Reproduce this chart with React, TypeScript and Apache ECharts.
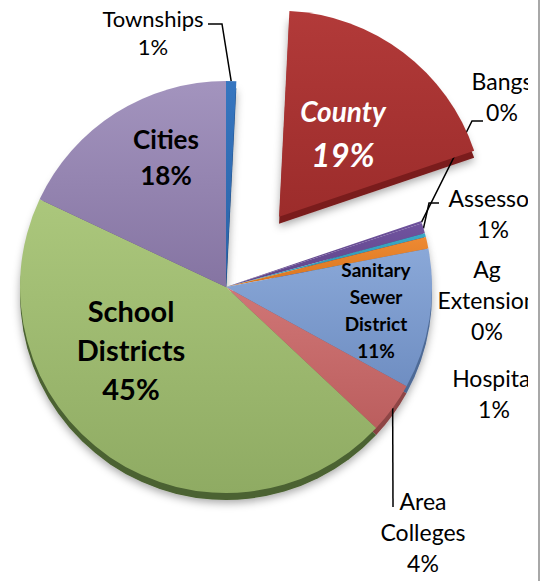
import React, { useEffect, useRef } from "react";
import * as echarts from "echarts";

// ---- data ----
const categories = [
  "Townships",
  "County",
  "Bangs",
  "Assessor",
  "Ag Extension",
  "Hospital",
  "Sanitary Sewer District",
  "Area Colleges",
  "School Districts",
  "Cities",
];
const values = [0.8, 19, 0.2, 0.8, 0.3, 0.9, 11, 4, 45, 18];
const labelNames = [
  "Townships",
  "County",
  "Bangs",
  "Assessor",
  "Ag\nExtension",
  "Hospital",
  "Sanitary\nSewer\nDistrict",
  "Area\nColleges",
  "School\nDistricts",
  "Cities",
];

// ---- styling ----
const topColors = ["#3676c0", "#b23a39", "#6e529c", "#70539f", "#3aa9c6", "#ee8a33", "#8aa8d8", "#d07676", "#abc77c", "#a394be"];
const bottomColors = ["#2a62a6", "#9c2c2b", "#5e4488", "#5e4488", "#2f93ad", "#d8751f", "#6f8ec2", "#bb5e5e", "#8fab63", "#8574a2"];
const sideColors = ["#1f4a7e", "#7a1f1f", "#47336a", "#47336a", "#236f83", "#a85818", "#4e6a96", "#8e4444", "#4b6230", "#5f5078"];

const lineIdx = [0, 2, 3, 7];

// label centres (layout only)
const labelPos: Record<number, [number, number]> = {
  0: [153, 32],
  1: [350, 98],
  2: [502, 96],
  3: [493, 213],
  4: [487, 300],
  5: [494, 393],
  6: [376, 310],
  7: [423, 532],
  8: [131, 349],
  9: [166, 157],
};
const lineBends: Record<number, [number, number][]> = {
  0: [[222, 24], [208, 24]],
  2: [[472, 121], [483, 121]],
  3: [[429, 203], [439, 203]],
  7: [[393, 507], [393, 507]],
};

const FONT = "Lato, 'Open Sans', sans-serif";
const CENTER_X = 226;
const CENTER_Y = 287;
const RADIUS = 206;
const EXPLODE = 88;

function labelFor(i: number) {
  if (i === 1) {
    return {
      show: true,
      position: "inside",
      formatter: "{a|County}\n{b|{d}%}",
      rich: {
        a: { fontFamily: FONT, fontSize: 28, fontWeight: "bold", fontStyle: "italic", color: "#fff", lineHeight: 43, align: "center" },
        b: { fontFamily: FONT, fontSize: 33, fontWeight: "bold", fontStyle: "italic", color: "#fff", lineHeight: 43, align: "center" },
      },
    };
  }
  if (i === 6) {
    return { show: true, position: "inside", formatter: labelNames[i] + "\n{d}%", fontFamily: FONT, fontSize: 19, fontWeight: "bold", color: "#000", lineHeight: 27, align: "center" };
  }
  if (i === 8) {
    return { show: true, position: "inside", formatter: labelNames[i] + "\n{d}%", fontFamily: FONT, fontSize: 29, fontWeight: "bold", color: "#000", lineHeight: 39, align: "center" };
  }
  if (i === 9) {
    return { show: true, position: "inside", formatter: labelNames[i] + "\n{d}%", fontFamily: FONT, fontSize: 26, fontWeight: "bold", color: "#000", lineHeight: 36, align: "center" };
  }
  return {
    show: true,
    position: "outside",
    formatter: labelNames[i] + "\n{d}%",
    fontFamily: FONT,
    fontSize: i === 0 ? 22 : 23,
    lineHeight: i === 0 ? 28 : 31,
    color: "#000",
    align: "center",
  };
}

export default function App() {
  const ref = useRef<HTMLDivElement>(null);
  useEffect(() => {
    if (!ref.current) return;
    const chart = echarts.init(ref.current, null, { renderer: "svg" });

    const mainData = categories.map((name, i) => ({
      name,
      value: values[i],
      selected: i === 1,
      itemStyle: {
        color: new echarts.graphic.LinearGradient(0, 0, 0, 1, [
          { offset: 0, color: topColors[i] },
          { offset: 1, color: bottomColors[i] },
        ]),
      },
      label: labelFor(i),
      labelLine: {
        show: lineIdx.includes(i),
        lineStyle: { color: "#000", width: 1.5 },
      },
    }));

    const sideData = categories.map((name, i) => ({
      name,
      value: values[i],
      selected: i === 1,
      itemStyle: { color: sideColors[i] },
    }));

    chart.setOption({
      animation: false,
      backgroundColor: "#fff",
      series: [
        {
          type: "pie",
          name: "depth",
          silent: true,
          z: 1,
          center: [CENTER_X, CENTER_Y + 7],
          radius: RADIUS,
          startAngle: 90,
          clockwise: true,
          selectedMode: "single",
          selectedOffset: EXPLODE,
          label: { show: false },
          labelLine: { show: false },
          itemStyle: { shadowBlur: 8, shadowColor: "rgba(0,0,0,0.35)", shadowOffsetY: 3 },
          data: sideData,
        },
        {
          type: "pie",
          name: "main",
          silent: true,
          z: 2,
          center: [CENTER_X, CENTER_Y],
          radius: RADIUS,
          startAngle: 90,
          clockwise: true,
          avoidLabelOverlap: false,
          selectedMode: "single",
          selectedOffset: EXPLODE,
          percentPrecision: 0,
          data: mainData,
          labelLayout: (params: any) => {
            const i = params.dataIndex;
            const p = labelPos[i];
            if (!p) return {};
            const out: any = { x: p[0], y: p[1], align: "center", verticalAlign: "middle" };
            const bends = lineBends[i];
            if (bends && params.labelLinePoints && params.labelLinePoints[0]) {
              out.labelLinePoints = [params.labelLinePoints[0], ...bends];
            }
            return out;
          },
        },
      ],
    });
    return () => chart.dispose();
  }, []);

  return (
    <div style={{ position: "absolute", left: 0, top: 0, width: 547, height: 581, background: "#fff", overflow: "hidden" }}>
      <div ref={ref} style={{ position: "absolute", left: 0, top: 0, width: 528, height: 581, overflow: "hidden" }} />
      <div style={{ position: "absolute", left: 538, top: 0, width: 2, height: 581, background: "#a8a8a8" }} />
    </div>
  );
}
